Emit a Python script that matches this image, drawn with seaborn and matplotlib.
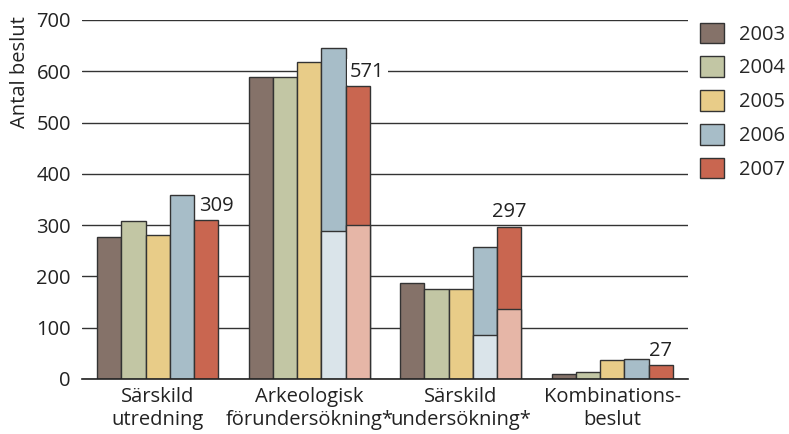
import matplotlib
matplotlib.use("Agg")
import matplotlib.pyplot as plt
from matplotlib.ticker import FixedLocator
import seaborn as sns
import pandas as pd

categories = ["Särskild\nutredning", "Arkeologisk\nförundersökning*",
              "Särskild\nundersökning*", "Kombinations-\nbeslut"]
years = ["2003", "2004", "2005", "2006", "2007"]
v2003 = [276, 588, 187, 10]
v2004 = [307, 588, 176, 14]
v2005 = [281, 618, 175, 37]
v2006 = [359, 646, 258, 39]
v2007 = [309, 571, 297, 27]

# lighter lower part of some 2006/2007 bars
lower_cats = [categories[1], categories[2], categories[1], categories[2]]
lower_years = ["2006", "2006", "2007", "2007"]
lower_vals = [288, 86, 301, 136]

colors = ["#857269", "#c2c6a4", "#e8cc88", "#a7bdc8", "#c96650"]
light = ["#857269", "#c2c6a4", "#e8cc88", "#dae4ea", "#e6b6a7"]

sns.set_theme(style="white")
plt.rcParams["font.family"] = ["Open Sans", "DejaVu Sans"]
FS = 14.5

rows = []
for y, vals in zip(years, [v2003, v2004, v2005, v2006, v2007]):
    for c, v in zip(categories, vals):
        rows.append({"kategori": c, "år": y, "antal": v})
df = pd.DataFrame(rows)
low = pd.DataFrame({"kategori": lower_cats, "år": lower_years, "antal": lower_vals})

fig = plt.figure(figsize=(7.89, 4.34), dpi=100)
ax = fig.add_axes([0.104, 0.127, 0.768, 0.827])
ax.set_axisbelow(True)
ax.yaxis.grid(True, color="#333333", linewidth=1.0)

sns.barplot(data=df, x="kategori", y="antal", hue="år", order=categories,
            hue_order=years, palette=dict(zip(years, colors)), width=0.8,
            saturation=1, edgecolor="#333333", linewidth=1.0, ax=ax)
handles, labels = ax.get_legend_handles_labels()
sns.barplot(data=low, x="kategori", y="antal", hue="år", order=categories,
            hue_order=years, palette=dict(zip(years, light)), width=0.8,
            saturation=1, edgecolor="#333333", linewidth=1.0, legend=False, ax=ax)

ax.set_ylim(0, 700)
ax.set_xlim(-0.5, 3.5)
ax.set_yticks(range(0, 701, 100))
ax.tick_params(axis="y", length=0, pad=8, labelsize=FS, labelcolor="#222222")
ax.tick_params(axis="x", which="major", length=0, pad=6, labelsize=FS, labelcolor="#222222")
for t in ax.get_xticklabels():
    t.set_linespacing(1.2)
ax.xaxis.set_minor_locator(FixedLocator([0.5, 1.5, 2.5]))
ax.tick_params(axis="x", which="minor", direction="in", length=7, width=1, color="#555555")
for s in ["top", "right", "left"]:
    ax.spines[s].set_visible(False)
ax.spines["bottom"].set_color("#222222")
ax.spines["bottom"].set_linewidth(1.2)

ax.set_xlabel("")
ax.set_ylabel("Antal beslut", fontsize=FS, color="#222222")
ax.yaxis.set_label_coords(-0.086, 0.855)

# value labels over the 2007 bars
bars07 = ax.containers[4]
dx = [7, 7, 0, 0]
for bar, v, d in zip(bars07, v2007, dx):
    bb = dict(fc="white", ec="none", pad=2) if v == 571 else None
    ax.annotate(str(v), (bar.get_x() + bar.get_width() / 2, bar.get_height()),
                xytext=(d, 3), textcoords="offset points", ha="center", va="bottom",
                fontsize=FS, color="#222222", bbox=bb, zorder=5)

ax.legend(handles, labels, loc="upper left", bbox_to_anchor=(0.887, 0.948),
          bbox_transform=fig.transFigure, frameon=False, fontsize=FS,
          handlelength=1.2, handleheight=1.2, handletextpad=0.75,
          labelspacing=0.58, borderpad=0, borderaxespad=0)

fig.savefig("out.png", dpi=100)
